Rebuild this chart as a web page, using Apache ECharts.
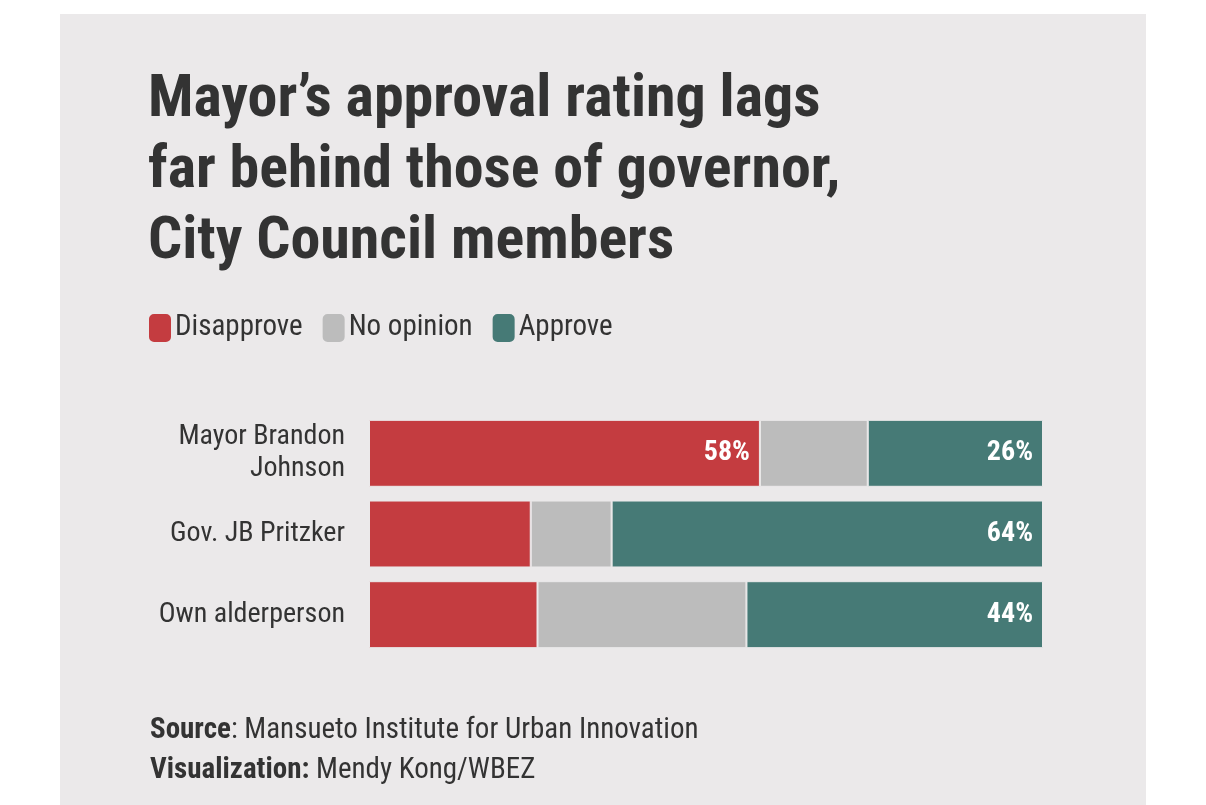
<!DOCTYPE html>
<html>
<head>
<meta charset="utf-8">
<script src="https://cdn.jsdelivr.net/npm/echarts@6/dist/echarts.min.js"></script>
<style>html,body{margin:0;padding:0;background:#fff}#chart{width:1206px;height:805px}</style>
</head>
<body>
<div id="chart"></div>
<script>
var categories = ['Mayor Brandon\nJohnson', 'Gov. JB Pritzker', 'Own alderperson'];
var disapprove = [58, 24, 25];
var noOpinion = [16, 12, 31];
var approve = [26, 64, 44];
// which segments carry a value label
var showDisapprove = [true, false, false];
var showApprove = [true, true, true];

function items(vals, show) {
  return vals.map(function(v, i) {
    return { value: v, label: { show: show ? show[i] : false } };
  });
}

var chart = echarts.init(document.getElementById('chart'));
var font = '"Roboto Condensed", "Liberation Sans Narrow", Roboto, sans-serif';
var barLabel = {
  position: 'insideRight', color: '#fff', fontSize: 28, fontWeight: 'bold',
  fontFamily: font, formatter: '{c}%', distance: 10
};
chart.setOption({
  backgroundColor: '#fff',
  graphic: [{ type: 'rect', z: -10, shape: { x: 60, y: 14, width: 1086, height: 791 }, style: { fill: '#ebe9ea' } }],
  title: [
    { text: 'Mayor’s approval rating lags\nfar behind those of governor,\nCity Council members', left: 143, top: 60,
      textStyle: { fontFamily: font, fontSize: 60, fontWeight: 'bold', color: '#333', lineHeight: 71 } },
    { text: '{b|Source}: Mansueto Institute for Urban Innovation\n{b|Visualization:} Mendy Kong/WBEZ', left: 145, top: 706,
      textStyle: { fontFamily: font, fontSize: 29, fontWeight: 'normal', color: '#333', lineHeight: 40,
        rich: { b: { fontFamily: font, fontSize: 29, fontWeight: 'bold', color: '#333' } } } }
  ],
  legend: {
    left: 142, top: 307, itemWidth: 24, itemHeight: 30, itemGap: 18, icon: 'roundRect',
    textStyle: { fontFamily: font, fontSize: 29, color: '#333', padding: [0, 0, 0, -2] },
    data: ['Disapprove', 'No opinion', 'Approve']
  },
  grid: { left: 369, right: 163, top: 413, bottom: 150 },
  xAxis: { type: 'value', min: 0, max: 100, show: false },
  yAxis: {
    type: 'category', data: categories, inverse: true,
    axisLine: { show: false }, axisTick: { show: false },
    axisLabel: { fontFamily: font, fontSize: 28, color: '#333', margin: 24, lineHeight: 32, align: 'right' }
  },
  series: [
    { name: 'Disapprove', type: 'bar', stack: 't', data: items(disapprove, showDisapprove), barCategoryGap: '17%',
      itemStyle: { color: '#c43c40', borderColor: '#ebe9ea', borderWidth: 1 }, label: barLabel },
    { name: 'No opinion', type: 'bar', stack: 't', data: items(noOpinion),
      itemStyle: { color: '#bcbcbc', borderColor: '#ebe9ea', borderWidth: 1 } },
    { name: 'Approve', type: 'bar', stack: 't', data: items(approve, showApprove),
      itemStyle: { color: '#467a76', borderColor: '#ebe9ea', borderWidth: 1 }, label: barLabel }
  ]
});
</script>
</body>
</html>
